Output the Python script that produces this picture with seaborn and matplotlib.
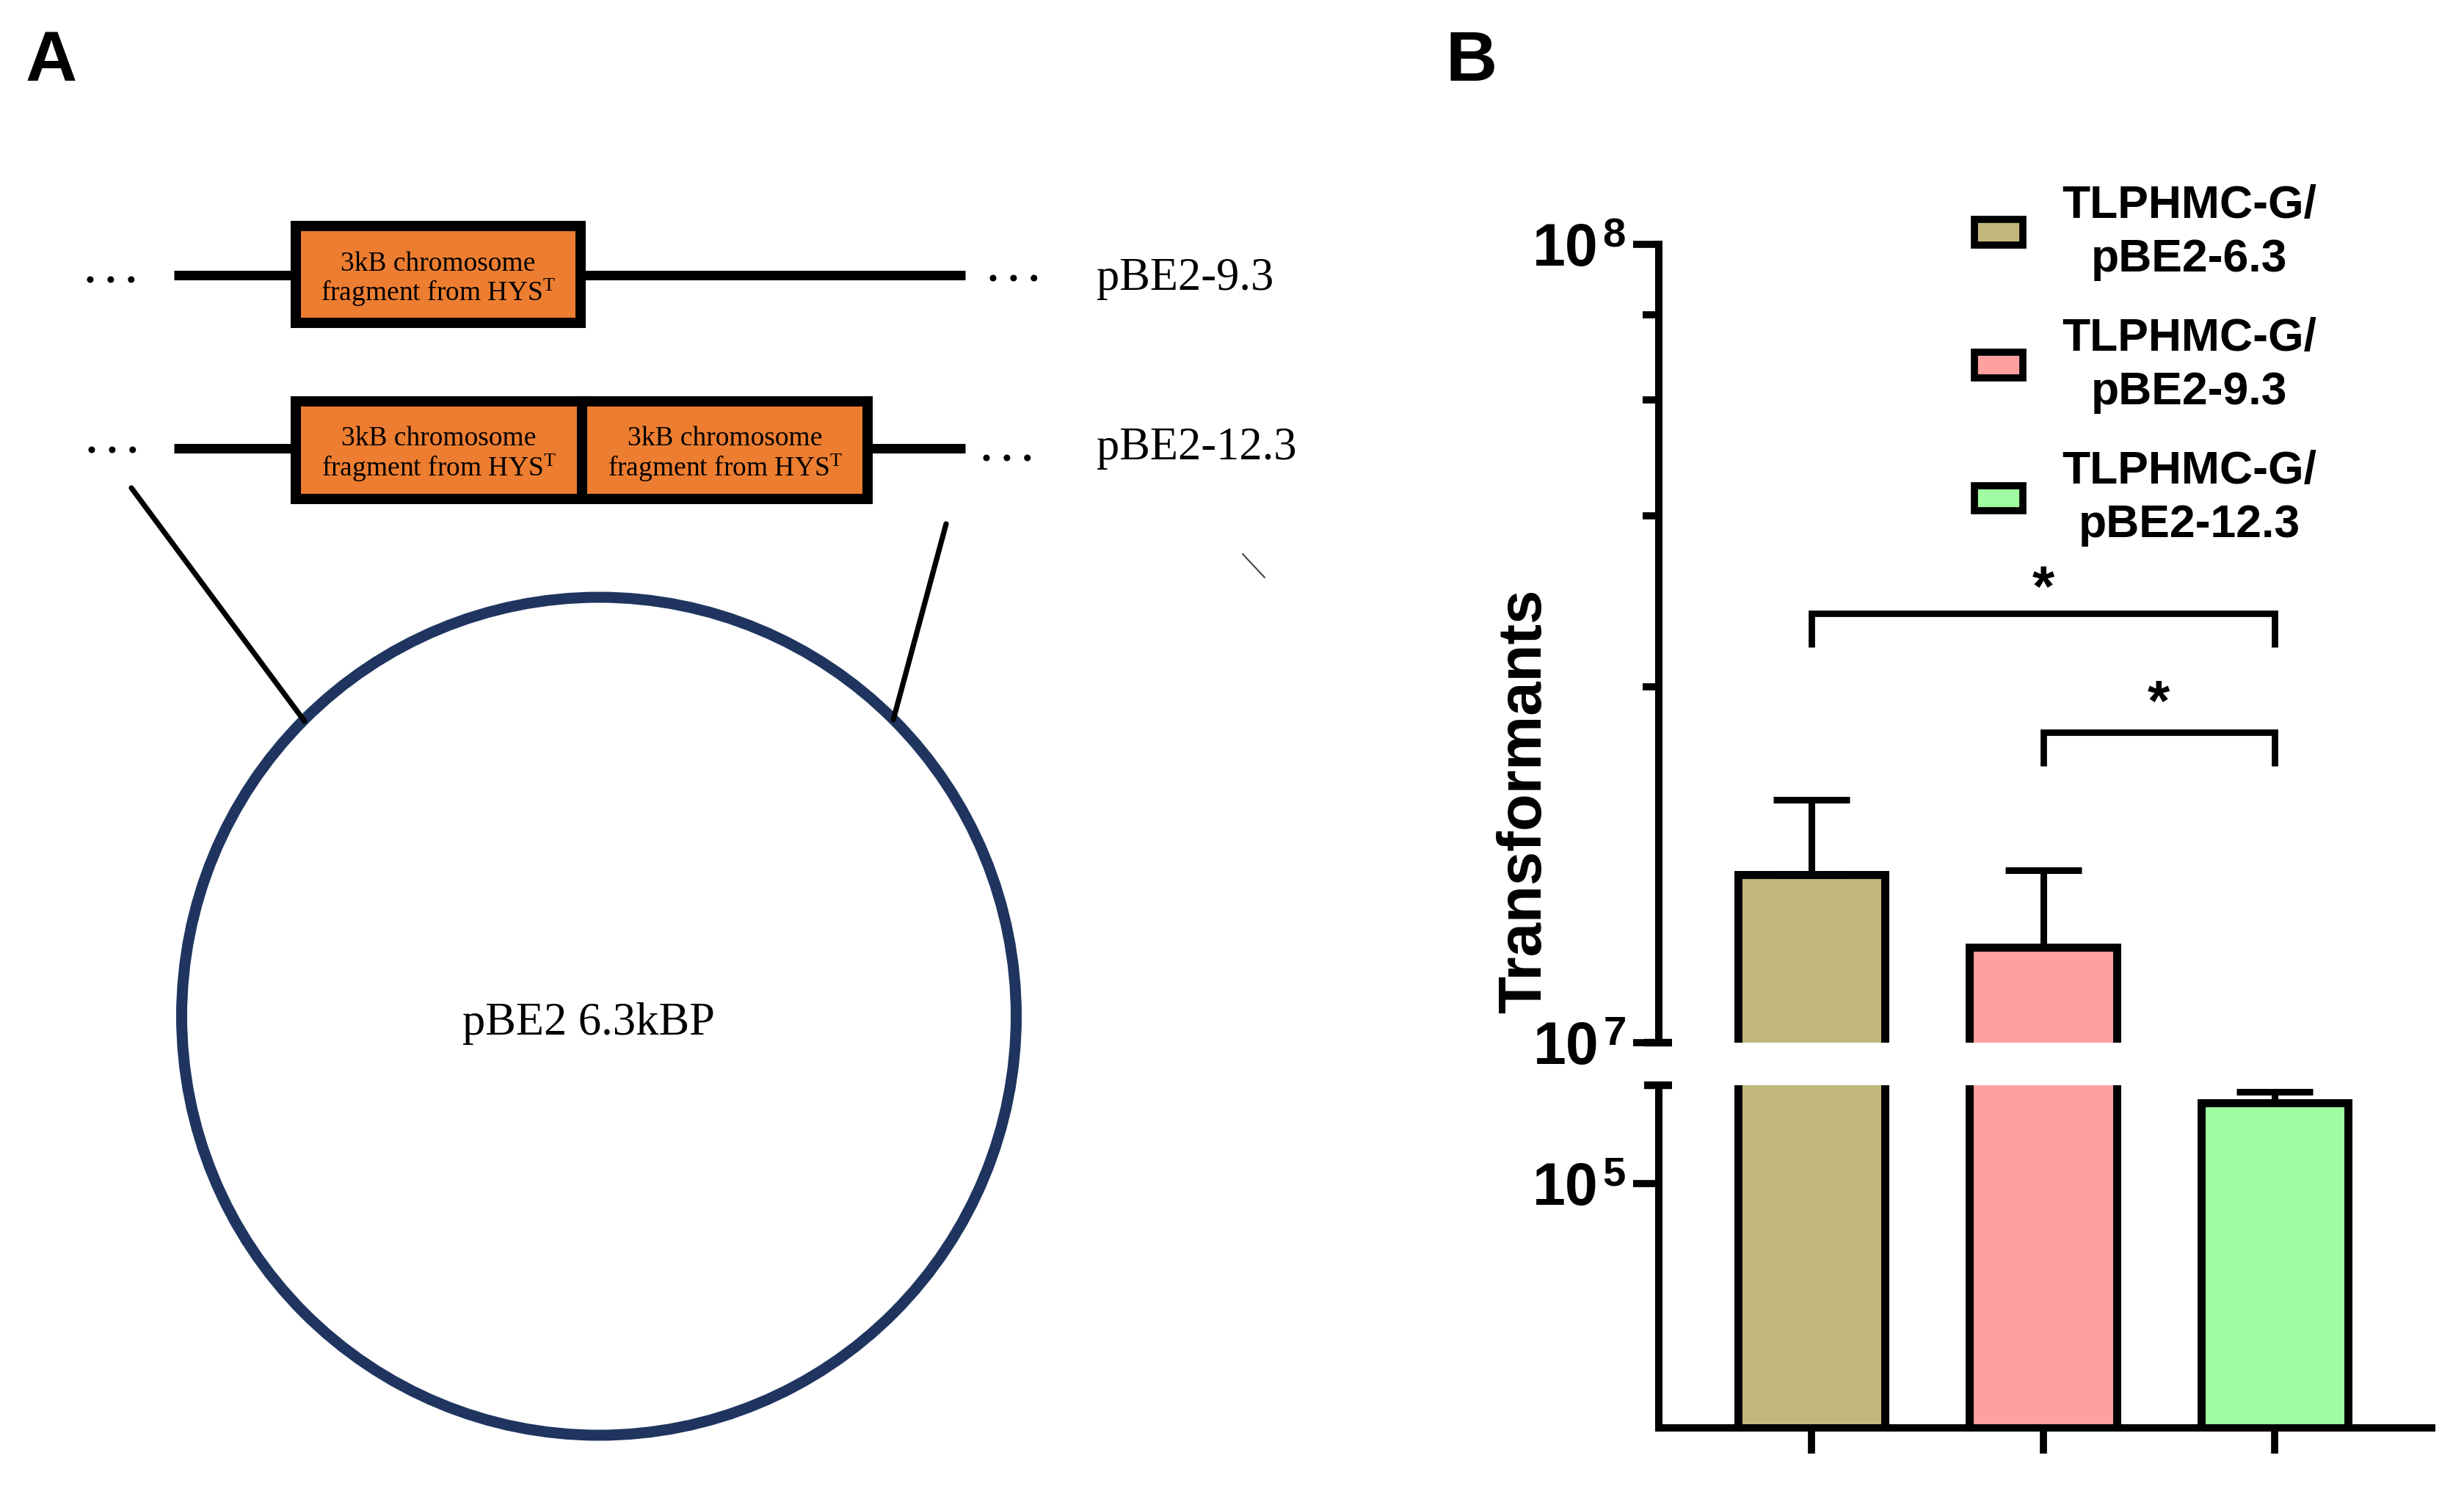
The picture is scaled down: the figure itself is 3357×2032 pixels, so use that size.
import numpy as np
import pandas as pd
import matplotlib
matplotlib.use("Agg")
import matplotlib.pyplot as plt
import matplotlib.transforms as mtransforms
from matplotlib.patches import Rectangle, Ellipse, Patch
from matplotlib import font_manager as fm
import seaborn as sns

# ---------------- data ----------------
groups = ["TLPHMC-G/\npBE2-6.3", "TLPHMC-G/\npBE2-9.3", "TLPHMC-G/\npBE2-12.3"]
means = [1.622e7, 1.318e7, 1.330e5]
err_up = [3.91e6, 3.28e6, 4.5e3]
colors = ["#c1b77d", "#fea0a0", "#a0fca0"]

upper_ticks = [1e7, 1e8]
upper_labels = [r"$\mathbf{10}^{\,\mathbf{7}}$", r"$\mathbf{10}^{\,\mathbf{8}}$"]
upper_minor = [2.79e7, 4.57e7, 6.38e7, 8.17e7]
lower_ticks = [1e5]
lower_labels = [r"$\mathbf{10}^{\,\mathbf{5}}$"]
upper_lim = (1e7, 1e8)
lower_lim = (0, 1.402e5)

# significance comparisons: (group a, group b, label)
comparisons = [(0, 2, "*"), (1, 2, "*")]

# ---------------- style ----------------
sns.set_style("ticks")
names = {f.name for f in fm.fontManager.ttflist}
narrow = "Liberation Sans Narrow" if "Liberation Sans Narrow" in names else "Liberation Sans"
plt.rcParams["font.family"] = ["Liberation Sans", "DejaVu Sans"]
plt.rcParams["mathtext.fontset"] = "custom"
plt.rcParams["mathtext.rm"] = "Liberation Serif"
plt.rcParams["mathtext.it"] = "Liberation Serif:italic"
plt.rcParams["mathtext.bf"] = f"{narrow}:bold"
for k in ("text.color", "axes.labelcolor", "xtick.color", "ytick.color", "axes.edgecolor"):
    plt.rcParams[k] = "black"

W, H = 3357, 2033
fig = plt.figure(figsize=(W / 100, H / 100), dpi=100)
fig.patch.set_facecolor("white")

# ---------------- panel B ----------------
ax_left = 2260 / W
ax_w = (3313 - 2260) / W
ax_up = fig.add_axes([ax_left, 1 - 1422 / H, ax_w, (1422 - 334) / H], zorder=2)
ax_lo = fig.add_axes([ax_left, 1 - 1947 / H, ax_w, (1947 - 1480) / H], zorder=2)

df = pd.DataFrame({"group": groups, "value": means})
SPINE = 7.2
for ax in (ax_up, ax_lo):
    sns.barplot(data=df, x="group", y="value", hue="group", order=groups,
                hue_order=groups, palette=colors, saturation=1, legend=False,
                width=0.634, edgecolor="black", linewidth=7.9, errorbar=None, ax=ax)
    ax.errorbar(np.arange(len(groups)), means, yerr=[np.zeros(len(groups)), err_up],
                fmt="none", ecolor="black", elinewidth=6.5, capsize=37.8,
                capthick=6.5, zorder=5)
    ax.set_facecolor("none")
    ax.set_xlabel("")
    ax.set_ylabel("")
    ax.set_xlim(-0.659, 2.678)
    for s in ("top", "right"):
        ax.spines[s].set_visible(False)
    for s in ("left", "bottom"):
        ax.spines[s].set_linewidth(SPINE)
        ax.spines[s].set_color("black")
        ax.spines[s].set_capstyle("projecting")
    ax.tick_params(axis="y", which="major", length=25, width=7, pad=7,
                   labelsize=58, direction="out", color="black", labelcolor="black")
    ax.tick_params(axis="y", which="minor", length=16, width=7, direction="out",
                   color="black")

ax_up.set_yscale("log")
ax_up.set_ylim(*upper_lim)
ax_up.set_yticks(upper_ticks, labels=upper_labels)
ax_up.set_yticks(upper_minor, labels=[""] * len(upper_minor), minor=True)
ax_up.spines["bottom"].set_visible(False)
ax_up.tick_params(axis="x", bottom=False, labelbottom=False)

ax_lo.set_ylim(*lower_lim)
ax_lo.set_yticks(lower_ticks, labels=lower_labels)
ax_lo.tick_params(axis="x", length=25, width=7, direction="out", labelbottom=False,
                  color="black")

# break caps on the y axis
for ax, yv in ((ax_up, upper_lim[0]), (ax_lo, lower_lim[1])):
    tr = mtransforms.blended_transform_factory(ax.transAxes, ax.transData)
    ax.plot([-0.019, 0.017], [yv, yv], transform=tr, color="black", lw=7.5,
            solid_capstyle="butt", clip_on=False, zorder=6)

# significance brackets
bracket_tops = [3.45e7, 2.45e7]
bracket_legs = [3.13e7, 2.22e7]
star_y = [3.685e7, 2.65e7]
for (a, b, lab), top, leg, sy in zip(comparisons, bracket_tops, bracket_legs, star_y):
    ax_up.plot([a, a, b, b], [leg, top, top, leg], color="black", lw=6.3,
               solid_joinstyle="miter", solid_capstyle="butt", clip_on=False)
    ax_up.text((a + b) / 2, sy, lab, ha="center", va="center", fontsize=56,
               fontweight="bold")

# legend
handles = [Patch(facecolor=c, edgecolor="black", linewidth=7) for c in colors]
leg = ax_up.legend(handles, groups, loc="upper left",
                   bbox_to_anchor=(2690 / W, 1 - 251 / H), bbox_transform=fig.transFigure,
                   frameon=False, prop={"weight": "bold", "size": 45},
                   handlelength=1.06, handleheight=0.48, handletextpad=0.85,
                   labelspacing=0.79, borderpad=0, borderaxespad=0)
for t in leg.get_texts():
    t.set_multialignment("center")
    t.set_linespacing(1.3)
    t.set_color("black")

fig.text(2077 / W, 1 - 1092 / H, "Transformants", rotation=90, ha="center",
         va="center", fontsize=60, fontweight="bold")

# ---------------- panel A (schematic) ----------------
dax = fig.add_axes([0, 0, 1, 1], zorder=0)
dax.set_xlim(0, W)
dax.set_ylim(H, 0)
dax.axis("off")
dax.patch.set_visible(False)

serif = ["Liberation Serif", "DejaVu Serif"]
orange = "#ed7d31"

# backbone lines
dax.plot([237, 1315], [376, 376], color="black", lw=9.4, solid_capstyle="butt", zorder=1)
dax.plot([237, 1315], [612, 612], color="black", lw=9.4, solid_capstyle="butt", zorder=1)

# fragment boxes
box_lw = 10.1
dax.add_patch(Rectangle((403, 309), 388, 132, fc=orange, ec="black", lw=box_lw, zorder=2))
dax.add_patch(Rectangle((403, 548), 390, 133, fc=orange, ec="black", lw=box_lw, zorder=2))
dax.add_patch(Rectangle((793, 548), 389, 133, fc=orange, ec="black", lw=box_lw, zorder=2))

frag1 = "3kB chromosome"
frag2 = r"fragment from HYS$^{\mathrm{T}}$"
for cx, b1, b2 in ((597, 369, 410), (598, 607, 649), (988, 607, 649)):
    dax.text(cx, b1, frag1, ha="center", va="baseline", fontsize=27, family=serif, zorder=3)
    dax.text(cx, b2, frag2, ha="center", va="baseline", fontsize=27, family=serif, zorder=3)

# ellipsis dots
for cx, by in ((151, 386), (1381, 383), (153, 618), (1372, 629)):
    dax.text(cx, by, ". . .", ha="center", va="baseline", fontsize=40,
             fontweight="bold", family=serif)

dax.text(1494, 395, "pBE2-9.3", ha="left", va="baseline", fontsize=45, family=serif)
dax.text(1494, 626, "pBE2-12.3", ha="left", va="baseline", fontsize=45, family=serif)

# connectors to plasmid
dax.plot([179, 415], [666, 984], color="black", lw=5.2)
dax.plot([1289, 1217], [715, 982], color="black", lw=5.2)
dax.plot([1693, 1723], [756, 788], color="#444444", lw=1.5)

# plasmid circle
dax.add_patch(Ellipse((816, 1386), 1137, 1142, fill=False, ec="#1f3560", lw=10.8))
dax.text(802, 1410, "pBE2 6.3kBP", ha="center", va="baseline", fontsize=45, family=serif)

# panel letters
dax.text(35, 110, "A", ha="left", va="baseline", fontsize=70, fontweight="bold")
dax.text(1970, 110, "B", ha="left", va="baseline", fontsize=70, fontweight="bold")

fig.savefig("out.png", dpi=100, facecolor="white")
